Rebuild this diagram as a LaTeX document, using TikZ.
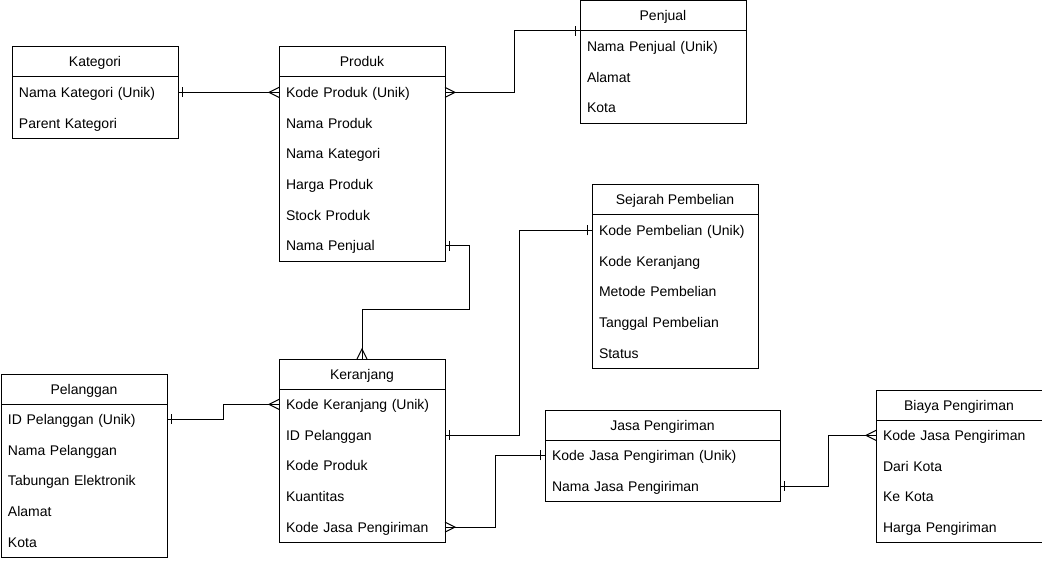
\documentclass[tikz,border=0pt]{standalone}
\usepackage{fontspec}
\setmainfont{Liberation Sans}
\usetikzlibrary{positioning}

\begin{document}
\begin{tikzpicture}[x=1pt, y=-1pt, line width=1pt, font=\fontsize{14}{16}\selectfont,
  head/.style={draw, minimum width=#1, minimum height=30pt, inner sep=0pt, outer sep=0pt, text height=10pt, text depth=0pt, anchor=north west},
  field/.style={text width=#1, inner xsep=7pt, inner ysep=0pt, outer sep=0pt, text height=10pt, text depth=0pt, minimum height=30.7pt},
  erone/.pic={\draw (-4.5pt,-5pt) -- (-4.5pt,5pt);},
  ermany/.pic={\draw (0pt,-5pt) -- (-10pt,0pt) -- (0pt,5pt);}]
\useasboundingbox (0,0) rectangle (1042,564);

% Kategori
\node[head=166pt] (kat) at (12,47) {Kategori};
\node[field=152pt, below=0pt of kat] (kat1) {Nama Kategori (Unik)};
\node[field=152pt, below=0pt of kat1] (kat2) {Parent Kategori};
\draw (kat.south west) rectangle (kat2.south east);

% Produk
\node[head=166pt] (pro) at (279,47) {Produk};
\node[field=152pt, below=0pt of pro] (pro1) {Kode Produk (Unik)};
\node[field=152pt, below=0pt of pro1] (pro2) {Nama Produk};
\node[field=152pt, below=0pt of pro2] (pro3) {Nama Kategori};
\node[field=152pt, below=0pt of pro3] (pro4) {Harga Produk};
\node[field=152pt, below=0pt of pro4] (pro5) {Stock Produk};
\node[field=152pt, below=0pt of pro5] (pro6) {Nama Penjual};
\draw (pro.south west) rectangle (pro6.south east);

% Penjual
\node[head=166pt] (pen) at (580,1) {Penjual};
\node[field=152pt, below=0pt of pen] (pen1) {Nama Penjual (Unik)};
\node[field=152pt, below=0pt of pen1] (pen2) {Alamat};
\node[field=152pt, below=0pt of pen2] (pen3) {Kota};
\draw (pen.south west) rectangle (pen3.south east);

% Sejarah Pembelian
\node[head=166pt] (sej) at (592,185) {Sejarah Pembelian};
\node[field=152pt, below=0pt of sej] (sej1) {Kode Pembelian (Unik)};
\node[field=152pt, below=0pt of sej1] (sej2) {Kode Keranjang};
\node[field=152pt, below=0pt of sej2] (sej3) {Metode Pembelian};
\node[field=152pt, below=0pt of sej3] (sej4) {Tanggal Pembelian};
\node[field=152pt, below=0pt of sej4] (sej5) {Status};
\draw (sej.south west) rectangle (sej5.south east);

% Pelanggan
\node[head=166pt] (pel) at (1,374) {Pelanggan};
\node[field=152pt, below=0pt of pel] (pel1) {ID Pelanggan (Unik)};
\node[field=152pt, below=0pt of pel1] (pel2) {Nama Pelanggan};
\node[field=152pt, below=0pt of pel2] (pel3) {Tabungan Elektronik};
\node[field=152pt, below=0pt of pel3] (pel4) {Alamat};
\node[field=152pt, below=0pt of pel4] (pel5) {Kota};
\draw (pel.south west) rectangle (pel5.south east);

% Keranjang
\node[head=166pt] (ker) at (279,359) {Keranjang};
\node[field=152pt, below=0pt of ker] (ker1) {Kode Keranjang (Unik)};
\node[field=152pt, below=0pt of ker1] (ker2) {ID Pelanggan};
\node[field=152pt, below=0pt of ker2] (ker3) {Kode Produk};
\node[field=152pt, below=0pt of ker3] (ker4) {Kuantitas};
\node[field=152pt, below=0pt of ker4] (ker5) {Kode Jasa Pengiriman};
\draw (ker.south west) rectangle (ker5.south east);

% Jasa Pengiriman
\node[head=235pt] (jas) at (545,410) {Jasa Pengiriman};
\node[field=221pt, below=0pt of jas] (jas1) {Kode Jasa Pengiriman (Unik)};
\node[field=221pt, below=0pt of jas1] (jas2) {Nama Jasa Pengiriman};
\draw (jas.south west) rectangle (jas2.south east);

% Biaya Pengiriman
\node[head=166pt] (bia) at (876,390) {Biaya Pengiriman};
\node[field=152pt, below=0pt of bia] (bia1) {Kode Jasa Pengiriman};
\node[field=152pt, below=0pt of bia1] (bia2) {Dari Kota};
\node[field=152pt, below=0pt of bia2] (bia3) {Ke Kota};
\node[field=152pt, below=0pt of bia3] (bia4) {Harga Pengiriman};
\draw (bia.south west) rectangle (bia4.south east);

% relasi
\draw (kat1.east) -- (pro1.west);
\pic[rotate=180] at (kat1.east) {erone};
\pic at (pro1.west) {ermany};

\draw (pro1.east) -- ++(69,0) |- (pen.south west);
\pic[rotate=180] at (pro1.east) {ermany};
\pic at (pen.south west) {erone};

\draw (pro6.east) -- ++(24,0) -- ++(0,64) -| (ker.north);
\pic[rotate=180] at (pro6.east) {erone};
\pic[rotate=-90] at (ker.north) {ermany};

\draw (pel1.east) -- ++(56,0) |- (ker1.west);
\pic[rotate=180] at (pel1.east) {erone};
\pic at (ker1.west) {ermany};

\draw (ker2.east) -- ++(74,0) |- (sej1.west);
\pic[rotate=180] at (ker2.east) {erone};
\pic at (sej1.west) {erone};

\draw (ker5.east) -- ++(50,0) |- (jas1.west);
\pic[rotate=180] at (ker5.east) {ermany};
\pic at (jas1.west) {erone};

\draw (jas2.east) -- ++(48,0) |- (bia1.west);
\pic[rotate=180] at (jas2.east) {erone};
\pic at (bia1.west) {ermany};
\end{tikzpicture}
\end{document}
